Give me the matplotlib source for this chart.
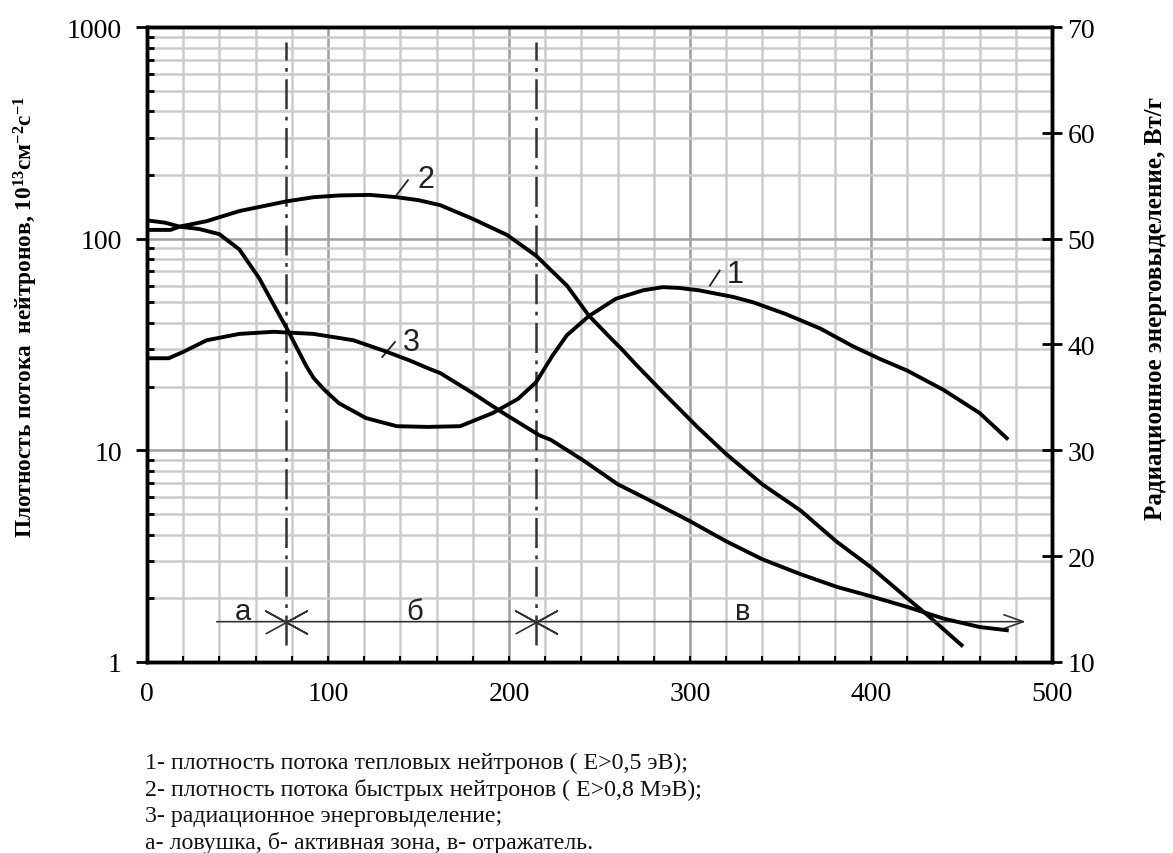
import numpy as np
import matplotlib
matplotlib.use("Agg")
import matplotlib.pyplot as plt
from matplotlib.ticker import MultipleLocator, LogLocator, NullFormatter, FixedLocator

plt.rcParams['font.family'] = ['Liberation Serif', 'DejaVu Serif']
plt.rcParams['mathtext.fontset'] = 'custom'
plt.rcParams['mathtext.rm'] = 'Liberation Serif'
plt.rcParams['mathtext.bf'] = 'Liberation Serif:bold'
plt.rcParams['mathtext.default'] = 'bf'

# 1 - thermal neutron flux, 10^13 cm^-2 s^-1
x1 = [0, 10, 18, 29, 40, 51, 62, 71, 77, 88, 92, 98, 106, 121, 138, 155, 173, 191, 205, 215,
      224, 232, 244, 259, 274, 285, 294, 305, 324, 335, 353, 372, 390, 405, 420, 440, 460, 475]
y1 = [122, 119, 114, 111, 105, 89, 65, 47, 38, 25, 22, 19.3, 16.7, 14.2, 13, 12.9, 13, 15, 17.5, 21,
      28, 35, 43, 52, 57, 59, 58.5, 57, 53, 50, 44, 37.6, 31, 27, 23.8, 19.3, 15, 11.4]

# 2 - fast neutron flux
x2 = [0, 13, 18, 33, 51, 77, 92, 106, 123, 138, 150, 162, 180, 199, 215, 232, 244, 256,
      263, 270, 285, 304, 320, 340, 361, 381, 400, 420, 431, 450]
y2 = [110, 110, 114, 121, 135, 150, 157, 160, 161, 157, 152, 144, 124, 104, 83, 60, 43.4, 34,
      29.6, 25.5, 18.8, 12.9, 9.6, 6.9, 5.2, 3.7, 2.8, 2.0, 1.67, 1.2]

# 3 - radiation heating, W/g (right axis)
x3 = [0, 12, 20, 33, 51, 70, 92, 114, 131, 145, 156, 162, 180, 197, 217, 223, 241, 260,
      282, 300, 320, 340, 361, 381, 400, 420, 440, 460, 475]
y3 = [38.7, 38.7, 39.3, 40.4, 41.0, 41.2, 41.0, 40.4, 39.4, 38.5, 37.7, 37.3, 35.4, 33.5, 31.4,
      31.0, 29.05, 26.8, 24.9, 23.3, 21.4, 19.7, 18.3, 17.1, 16.2, 15.2, 14.1, 13.3, 13.0]

zone_bounds = [77, 215]
zone_names = ['а', 'б', 'в']
zone_label_x = [53, 148, 329]
zone_line_y = 1.55
zone_line_x = [37, 487]

curve_names = ['1', '2', '3']
curve_label_xy = [(325, 68), (154, 192), (146, 32.5)]
leader_x = [(311, 316.4), (137.7, 144.2), (130, 137)]
leader_y = [(60, 70.7), (160, 189), (27.6, 32.5)]

notes = [
    "1- плотность потока тепловых нейтронов ( Е>0,5 эВ);",
    "2- плотность потока быстрых нейтронов ( Е>0,8 МэВ);",
    "3- радиационное энерговыделение;",
    "а- ловушка, б- активная зона, в- отражатель.",
]

fig = plt.figure(figsize=(11.73, 8.54), dpi=100)
ax = fig.add_axes([0.1253, 0.2237, 0.7716, 0.7435])

ax.set_yscale('log')
ax.set_xlim(0, 500)
ax.set_ylim(1, 1000)

ax.xaxis.set_major_locator(MultipleLocator(100))
ax.xaxis.set_minor_locator(MultipleLocator(20))
ax.yaxis.set_major_locator(FixedLocator([1, 10, 100, 1000]))
ax.yaxis.set_minor_locator(LogLocator(base=10, subs=np.arange(2, 10)))
ax.yaxis.set_minor_formatter(NullFormatter())
ax.set_yticklabels(['1', '10', '100', '1000'])

ax.grid(which='minor', color='#cccccc', lw=1.8, zorder=0)
ax.grid(which='major', color='#a0a0a0', lw=1.8, zorder=0)
ax.set_axisbelow(True)

for s in ax.spines.values():
    s.set_linewidth(2.5)

ax.tick_params(axis='x', which='both', direction='in', length=4, width=1.5,
               labelsize=20, pad=14)
ax.tick_params(axis='y', which='major', direction='out', length=8, width=2,
               labelsize=20, pad=10)
ax.tick_params(axis='y', which='minor', direction='in', length=5, width=2)

ax.plot(x1, y1, color='black', lw=2.8, zorder=3)
ax.plot(x2, y2, color='black', lw=2.8, zorder=3)

# zone boundaries and zone arrow
ax.vlines(zone_bounds, 1.2, 850, colors='#333333', lw=1.8,
          linestyles=[(0, (12, 3, 1.5, 3))], zorder=2)
ax.annotate('', xy=(zone_line_x[1], zone_line_y), xytext=(zone_line_x[0], zone_line_y),
            arrowprops=dict(arrowstyle='->,head_length=1.4,head_width=0.5', lw=1.2,
                            color='#333333'), zorder=4)
xmark = [(-1, -0.55), (1, 0.55), (0, 0), (-1, 0.55), (1, -0.55), (0, 0)]
ax.plot(zone_bounds, [zone_line_y] * len(zone_bounds), linestyle='none', marker=xmark,
        ms=30, mfc='none', mec='#333333', mew=1.2, zorder=4)
for name, zx in zip(zone_names, zone_label_x):
    ax.text(zx, 1.74, name, ha='center', va='center', fontsize=21,
            family=['Liberation Sans', 'DejaVu Sans'], color='#222222')

# curve numbers with leaders
for name, (tx, ty), lx, ly in zip(curve_names, curve_label_xy, leader_x, leader_y):
    ax.plot(lx, ly, color='#222222', lw=1.3, zorder=4)
    ax.text(tx, ty, name, ha='center', va='center', fontsize=22,
            family=['Liberation Sans', 'DejaVu Sans'], color='#222222')

ax2 = ax.twinx()
ax2.set_ylim(10, 70)
ax2.yaxis.set_major_locator(MultipleLocator(10))
ax2.tick_params(axis='y', direction='inout', length=14, width=2, labelsize=20, pad=4)
for s in ax2.spines.values():
    s.set_linewidth(2.5)
ax2.plot(x3, y3, color='black', lw=2.8, zorder=3)

fig.text(0.022, 0.629, "Плотность потока  нейтронов, 10$^{13}$см$^{-2}$с$^{-1}$",
         rotation=90, ha='center', va='center', fontsize=16.8, fontweight='bold')
fig.text(0.985, 0.639, "Радиационное энерговыделение, Вт/г",
         rotation=90, ha='center', va='center', fontsize=18, fontweight='bold')

for i, line in enumerate(notes):
    fig.text(0.124, 1 - (763 + i * 26.7) / 854, line, ha='left', va='center',
             fontsize=17.2, color='#111111')

fig.savefig('out.png', dpi=100)
